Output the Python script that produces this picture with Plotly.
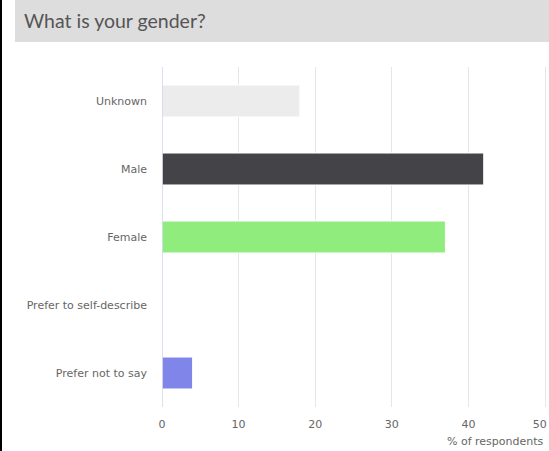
import plotly.graph_objects as go

categories = ["Unknown", "Male", "Female", "Prefer to self-describe", "Prefer not to say"]
values = [18, 42, 37, 0, 4]
colors = ["#ececec", "#434348", "#90ed7d", "#f7a35c", "#8085e9"]
x_ticks = [0, 10, 20, 30, 40, 50]
x_tick_labels = ["0", "10", "20", "30", "40", "50"]

W, H = 549, 451
L, R, T, B = 162, 0, 67, 44
pw, ph = W - L - R, H - T - B
unit = 7.66  # pixels per percent

def px(x):
    return (x - L) / pw

def py(y):
    return (H - B - y) / ph

# keep the edge label inside the page, as the original does
tick_text = x_tick_labels[:-1] + [x_tick_labels[-1] + "\u00a0" * 3]

fig = go.Figure(go.Bar(
    x=values, y=categories, orientation="h",
    marker=dict(color=colors, line=dict(color="white", width=1)),
    width=0.47, hoverinfo="x+y",
))

fig.update_layout(
    width=W, height=H,
    margin=dict(l=L, r=R, t=T, b=B, autoexpand=False),
    paper_bgcolor="white", plot_bgcolor="white",
    showlegend=False,
    font=dict(family="DejaVu Sans", size=11, color="#666666"),
    title=dict(text="What is your gender?", x=24 / W, xanchor="left",
               xref="container", yref="container", y=1 - 21 / H, yanchor="middle",
               font=dict(family="Lato", size=19.5, color="#555555")),
    xaxis=dict(range=[0, pw / unit], tickvals=x_ticks, ticktext=tick_text,
               showgrid=True, gridcolor="#e6e6e6",
               gridwidth=1, zeroline=False, showline=False, ticks="",
               ticklabelstandoff=9, ticklabeloverflow="allow", automargin=False,
               tickfont=dict(size=11, color="#666666"),
               fixedrange=True),
    yaxis=dict(categoryorder="array", categoryarray=categories, autorange="reversed",
               showgrid=False, zeroline=False, showline=False, ticks="",
               ticklabelstandoff=14, automargin=False,
               tickfont=dict(size=11, color="#666666"),
               fixedrange=True),
    shapes=[
        dict(type="rect", xref="paper", yref="paper", x0=px(15), x1=px(W + 2),
             y0=py(42), y1=py(-2), fillcolor="#dddddd", line=dict(width=0), layer="below"),
        dict(type="rect", xref="paper", yref="paper", x0=px(-2), x1=px(2),
             y0=py(H + 2), y1=py(-2), fillcolor="#000000", line=dict(width=0), layer="above"),
        dict(type="line", xref="x", yref="paper", x0=0, x1=0, y0=0, y1=1,
             line=dict(color="#ccd6eb", width=1.5), layer="above"),
    ],
    annotations=[
        dict(text="% of respondents", xref="paper", yref="paper", x=px(546), xanchor="right",
             y=py(441), yanchor="middle", showarrow=False,
             font=dict(family="DejaVu Sans", size=11, color="#666666")),
    ],
)

fig.write_html("out.html", config={"displayModeBar": False},
               post_script="document.body.style.margin='0';document.body.style.overflow='hidden';")
